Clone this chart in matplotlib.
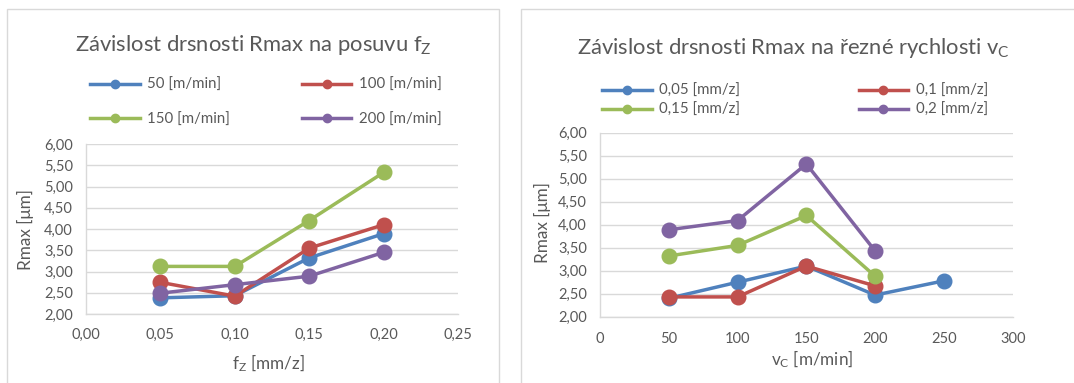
import matplotlib
matplotlib.use("Agg")
import matplotlib.pyplot as plt
from matplotlib.patches import Rectangle
from matplotlib.lines import Line2D
from matplotlib.ticker import FuncFormatter, MultipleLocator

plt.rcParams['font.family'] = ['Lato', 'DejaVu Sans']
plt.rcParams['mathtext.fontset'] = 'custom'
plt.rcParams['mathtext.rm'] = 'Lato'
plt.rcParams['mathtext.it'] = 'Lato'

# ---------------- data ----------------
fz = [0.05, 0.10, 0.15, 0.20]
left_labels = ["50 [m/min]", "100 [m/min]", "150 [m/min]", "200 [m/min]"]
rmax_v50 = [2.38, 2.43, 3.32, 3.89]
rmax_v100 = [2.745, 2.42, 3.55, 4.10]
rmax_v150 = [3.12, 3.12, 4.20, 5.33]
rmax_v200 = [2.49, 2.69, 2.89, 3.45]

vc_a = [50, 100, 150, 200, 250]
vc_b = [50, 100, 150, 200]
right_labels = ["0,05 [mm/z]", "0,1 [mm/z]", "0,15 [mm/z]", "0,2 [mm/z]"]
rmax_f005 = [2.40, 2.75, 3.10, 2.47, 2.78]
rmax_f010 = [2.43, 2.43, 3.10, 2.67]
rmax_f015 = [3.32, 3.55, 4.20, 2.88]
rmax_f020 = [3.89, 4.09, 5.32, 3.43]

colors = ["#4F81BD", "#C0504D", "#9BBB59", "#8064A2"]
TXT = "#595959"
GRID = "#D9D9D9"

TICK_FS = 10.5
LAB_FS = 12.3
LEG_FS = 10.8
TITLE_FS = 15.8

W, H = 1074, 383
fig = plt.figure(figsize=(W / 100, H / 100), dpi=100)


def fx(px):
    return px / W


def fy(py):
    return 1 - py / H


# panel borders
fig.add_artist(Rectangle((fx(7), fy(390)), fx(492), fy(9) - fy(390), transform=fig.transFigure,
                         fill=False, edgecolor=GRID, lw=1.0))
fig.add_artist(Rectangle((fx(520.5), fy(390)), fx(600), fy(9) - fy(390), transform=fig.transFigure,
                         fill=False, edgecolor=GRID, lw=1.0))


def comma(v, pos, nd=2):
    return f"{v:.{nd}f}".replace('.', ',')


def style(ax, xlim, xstep, xfmt, xpad):
    ax.set_ylim(2, 6)
    ax.set_xlim(*xlim)
    ax.yaxis.set_major_locator(MultipleLocator(0.5))
    ax.xaxis.set_major_locator(MultipleLocator(xstep))
    ax.yaxis.set_major_formatter(FuncFormatter(lambda v, p: comma(v, p, 2)))
    ax.xaxis.set_major_formatter(FuncFormatter(xfmt))
    ax.grid(axis='y', color=GRID, lw=1.0)
    ax.set_axisbelow(True)
    for s in ['top', 'right']:
        ax.spines[s].set_visible(False)
    for s in ['left', 'bottom']:
        ax.spines[s].set_color(GRID)
        ax.spines[s].set_linewidth(1.0)
    ax.tick_params(length=0, labelsize=TICK_FS, colors=TXT)
    ax.tick_params(axis='x', pad=xpad)
    ax.tick_params(axis='y', pad=9.5)


LW = 2.5
MS = 10.5

# ---------------- left chart ----------------
axL = fig.add_axes([fx(86), fy(314), fx(458) - fx(86), fy(144) - fy(314)])
style(axL, (0, 0.25), 0.05, lambda v, p: comma(v, p, 2), 10)
linesL = []
for ys, c, lab in zip([rmax_v50, rmax_v100, rmax_v150, rmax_v200], colors, left_labels):
    l, = axL.plot(fz, ys, color=c, lw=LW, marker='o', ms=MS, label=lab, solid_capstyle='round')
    linesL.append(l)
axL.set_ylabel("Rmax [μm]", fontsize=LAB_FS, color=TXT)
axL.set_xlabel(r"$\mathregular{f_Z}$ [mm/z]", fontsize=LAB_FS, color=TXT)
axL.yaxis.set_label_coords(-0.140, 0.494)
axL.xaxis.set_label_coords(0.489, -0.225)
fig.text(fx(253), fy(45), r"Závislost drsnosti Rmax na posuvu $\mathregular{f_Z}$",
         ha='center', va='center', fontsize=TITLE_FS, color=TXT)

# ---------------- right chart ----------------
axR = fig.add_axes([fx(600), fy(316.7), fx(1012.7) - fx(600), fy(132.7) - fy(316.7)])
style(axR, (0, 300), 50, lambda v, p: f"{int(v)}", 11)
linesR = []
for xs, ys, c, lab in zip([vc_a, vc_b, vc_b, vc_b], [rmax_f005, rmax_f010, rmax_f015, rmax_f020],
                          colors, right_labels):
    l, = axR.plot(xs, ys, color=c, lw=LW, marker='o', ms=MS, label=lab, solid_capstyle='round')
    linesR.append(l)
axR.set_ylabel("Rmax [μm]", fontsize=LAB_FS, color=TXT)
axR.set_xlabel(r"$\mathregular{v_C}$ [m/min]", fontsize=LAB_FS, color=TXT)
axR.yaxis.set_label_coords(-0.119, 0.509)
axR.xaxis.set_label_coords(0.514, -0.175)
fig.text(fx(793), fy(48), r"Závislost drsnosti Rmax na řezné rychlosti $\mathregular{v_C}$",
         ha='center', va='center', fontsize=TITLE_FS, color=TXT)


def proxies(lines):
    return [Line2D([], [], color=l.get_color(), lw=LW, marker='o', ms=6) for l in lines]


def make_legend(lines, labels, x0, ytop, colsp, rowsp):
    h = proxies(lines)
    order = [0, 2, 1, 3]
    leg = fig.legend([h[i] for i in order], [labels[i] for i in order], ncol=2,
                     loc='upper left', bbox_to_anchor=(fx(x0), fy(ytop)),
                     bbox_transform=fig.transFigure, frameon=False,
                     fontsize=LEG_FS, handlelength=3.3, handletextpad=0.5,
                     columnspacing=colsp, labelspacing=rowsp, borderpad=0, borderaxespad=0)
    for t in leg.get_texts():
        t.set_color(TXT)
    return leg


make_legend(linesL, left_labels, 90, 78, 4.8, 1.35)
make_legend(linesR, right_labels, 602, 84, 7.9, 0.33)

fig.savefig("out.png", dpi=100, facecolor='white')
